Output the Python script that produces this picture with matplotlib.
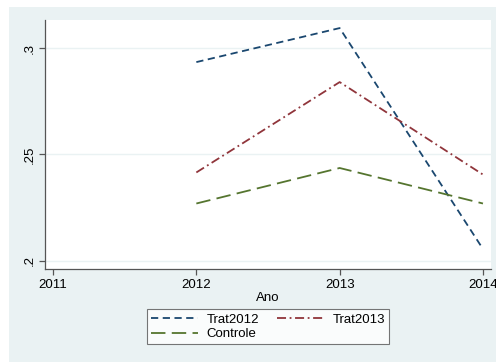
import matplotlib
matplotlib.use("Agg")
import matplotlib.pyplot as plt
from matplotlib.patches import Rectangle

plt.rcParams['font.family'] = ['Liberation Sans', 'DejaVu Sans']

anos = [2012, 2013, 2014]
trat2012 = [0.2934, 0.3094, 0.2055]
trat2013 = [0.2415, 0.2840, 0.2405]
controle = [0.2269, 0.2436, 0.2269]

xticks = [2011, 2012, 2013, 2014]
yticks = [0.2, 0.25, 0.3]
ytick_labels = ['.2', '.25', '.3']

bg = '#EAF2F3'
fs = 9.5

fig = plt.figure(figsize=(4.96, 3.62), dpi=100, facecolor='white')
fig.patches.append(Rectangle((9 / 496, 0), 1, 1 - 7 / 362, transform=fig.transFigure,
                             facecolor=bg, edgecolor='none', zorder=-1))
ax = fig.add_axes([45 / 496, 1 - 269 / 362, 446 / 496, 249 / 362])
ax.set_facecolor('white')

l1, = ax.plot(anos, trat2012, color='#1A476F', lw=1.3, linestyle=(0, (4, 2.5)), label='Trat2012')
l2, = ax.plot(anos, trat2013, color='#90353B', lw=1.3, linestyle=(0, (5, 2, 1, 2)), label='Trat2013')
l3, = ax.plot(anos, controle, color='#55752F', lw=1.3, linestyle=(0, (8, 3.5)), label='Controle')

ax.set_xlim(2010.944, 2014.056)
ax.set_ylim(0.1961, 0.3132)
ax.set_xticks(xticks)
ax.set_yticks(yticks)
ax.set_yticklabels(ytick_labels, rotation=90, va='center')
ax.grid(axis='y', color=bg, lw=1)
ax.set_axisbelow(True)

for s in ['top', 'right']:
    ax.spines[s].set_visible(False)
for s in ['left', 'bottom']:
    ax.spines[s].set_color('#555555')
    ax.spines[s].set_linewidth(0.9)
ax.tick_params(colors='#555555', labelcolor='black', labelsize=fs, length=4, width=0.9, pad=3)
ax.set_xlabel('Ano', fontsize=fs, labelpad=1)

# row-major order like the original: Trat2012, Trat2013 / Controle
leg = fig.legend([l1, l3, l2], ['Trat2012', 'Controle', 'Trat2013'],
                 loc='lower center', bbox_to_anchor=(268 / 496, 11 / 362), ncol=2,
                 fontsize=fs, frameon=True, fancybox=False, handlelength=3.6,
                 columnspacing=1.4, borderpad=0.3, labelspacing=0.2, handletextpad=0.6)
leg.get_frame().set_edgecolor('#555555')
leg.get_frame().set_linewidth(0.8)

fig.savefig('out.png', dpi=100, facecolor='white')
